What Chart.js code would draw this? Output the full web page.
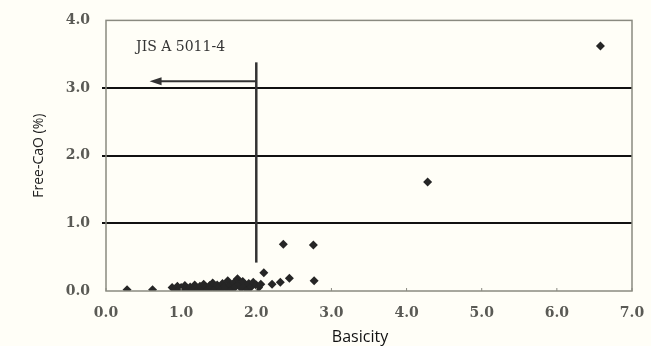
<!DOCTYPE html>
<html>
<head>
<meta charset="utf-8">
<script src="https://cdn.jsdelivr.net/npm/chart.js@4"></script>
<style>
  html, body { margin: 0; padding: 0; background: #fffef7; }
  #wrap { width: 651px; height: 346px; position: relative; }
</style>
</head>
<body>
<div id="wrap"><canvas id="basicityChart"></canvas></div>
<script>
// Basicity (x) vs Free-CaO % (y)
const basicity = [
  0.28, 0.62,
  0.88, 0.92, 0.95, 0.98, 1.00, 1.03, 1.05, 1.08, 1.10, 1.12, 1.15, 1.18, 1.20, 1.23,
  1.25, 1.28, 1.30, 1.33, 1.35, 1.38, 1.40, 1.42, 1.45, 1.48, 1.50, 1.52, 1.55, 1.58,
  1.60, 1.62, 1.65, 1.67, 1.70, 1.72, 1.75, 1.77, 1.80, 1.82, 1.85, 1.88, 1.90, 1.93,
  1.96, 2.00, 2.03, 2.06,
  2.10, 2.21, 2.32, 2.36, 2.44, 2.76, 2.77,
  4.28, 6.58
];
const freeCaO = [
  0.02, 0.02,
  0.05, 0.03, 0.07, 0.02, 0.05, 0.01, 0.08, 0.04, 0.02, 0.06, 0.03, 0.09, 0.05, 0.02,
  0.07, 0.04, 0.10, 0.06, 0.02, 0.08, 0.05, 0.12, 0.03, 0.09, 0.06, 0.01, 0.11, 0.07,
  0.04, 0.15, 0.09, 0.02, 0.12, 0.06, 0.18, 0.10, 0.04, 0.14, 0.08, 0.02, 0.11, 0.06,
  0.13, 0.09, 0.05, 0.10,
  0.27, 0.10, 0.13, 0.69, 0.19, 0.68, 0.15,
  1.61, 3.62
];
const xTicks = [0, 1, 2, 3, 4, 5, 6, 7];
const yTicks = [0, 1, 2, 3, 4];
const gridValues = [1, 2, 3];
const xTitle = "Basicity";
const yTitle = "Free-CaO (%)";

// JIS limit marker
const limitLabel = "JIS A 5011-4";
const limitX = 2.0;
const limitYTop = 3.38;
const limitYBottom = 0.42;
const arrowY = 3.1;
const arrowToX = 0.58;

const points = basicity.map((x, i) => ({ x: x, y: freeCaO[i] }));

const frameAndLimit = {
  id: 'frameAndLimit',
  afterDraw(chart) {
    const { ctx, chartArea: a, scales: { x, y } } = chart;
    ctx.save();
    // plot frame
    ctx.strokeStyle = '#8a8a80';
    ctx.lineWidth = 1.5;
    ctx.strokeRect(a.left, a.top, a.right - a.left, a.bottom - a.top);
    // small inward ticks on x axis
    ctx.lineWidth = 1;
    xTicks.forEach(v => {
      const px = x.getPixelForValue(v);
      ctx.beginPath();
      ctx.moveTo(px, a.bottom);
      ctx.lineTo(px, a.bottom - 3);
      ctx.stroke();
    });
    // vertical limit line
    const lx = x.getPixelForValue(limitX);
    ctx.strokeStyle = '#333';
    ctx.lineWidth = 2.5;
    ctx.beginPath();
    ctx.moveTo(lx, y.getPixelForValue(limitYTop));
    ctx.lineTo(lx, y.getPixelForValue(limitYBottom));
    ctx.stroke();
    // arrow
    const ay = y.getPixelForValue(arrowY);
    const ax = x.getPixelForValue(arrowToX);
    ctx.lineWidth = 2;
    ctx.beginPath();
    ctx.moveTo(lx, ay);
    ctx.lineTo(ax + 8, ay);
    ctx.stroke();
    ctx.fillStyle = '#333';
    ctx.beginPath();
    ctx.moveTo(ax, ay);
    ctx.lineTo(ax + 12, ay - 4);
    ctx.lineTo(ax + 12, ay + 4);
    ctx.closePath();
    ctx.fill();
    // label
    ctx.font = '14px "DejaVu Serif"';
    ctx.fillStyle = '#333';
    ctx.textBaseline = 'middle';
    ctx.fillText(limitLabel, x.getPixelForValue(0.4), y.getPixelForValue(3.6));
    // x axis title (sits a bit left of centre in the original)
    ctx.font = '16px "Open Sans"';
    ctx.fillStyle = '#111';
    ctx.textAlign = 'center';
    ctx.textBaseline = 'alphabetic';
    ctx.fillText(xTitle, 360, 342);
    ctx.restore();
  }
};

new Chart(document.getElementById('basicityChart'), {
  type: 'scatter',
  data: {
    datasets: [{
      data: points,
      pointStyle: 'rectRot',
      pointRadius: 4.5,
      pointHoverRadius: 4.5,
      backgroundColor: '#262626',
      borderColor: '#262626',
      borderWidth: 0
    }]
  },
  options: {
    responsive: true,
    maintainAspectRatio: false,
    animation: false,
    layout: { padding: { top: 20, right: 19, left: 31, bottom: 0 } },
    plugins: { legend: { display: false }, tooltip: { enabled: false } },
    scales: {
      x: {
        type: 'linear',
        min: 0, max: 7,
        afterBuildTicks: s => { s.ticks = xTicks.map(v => ({ value: v })); },
        afterFit: s => { s.height = 55; },
        grid: { display: false },
        border: { display: false },
        ticks: {
          padding: 6,
          color: '#5a5a55',
          font: { family: 'DejaVu Serif', size: 14, weight: 'bold' },
          callback: v => Number(v).toFixed(1)
        }
      },
      y: {
        min: 0, max: 4,
        afterBuildTicks: s => { s.ticks = yTicks.map(v => ({ value: v })); },
        afterFit: s => { s.width = 75; },
        grid: {
          color: c => gridValues.includes(c.tick && c.tick.value) ? '#111' : 'transparent',
          lineWidth: 2,
          tickLength: 4,
          drawTicks: true
        },
        border: { display: false },
        ticks: {
          padding: 12,
          color: '#5a5a55',
          font: { family: 'DejaVu Serif', size: 14, weight: 'bold' },
          callback: v => Number(v).toFixed(1)
        },
        title: {
          display: true,
          text: yTitle,
          color: '#222',
          font: { family: 'Open Sans', size: 14 },
          padding: { top: 0, bottom: 0 }
        }
      }
    }
  },
  plugins: [frameAndLimit]
});
</script>
</body>
</html>
